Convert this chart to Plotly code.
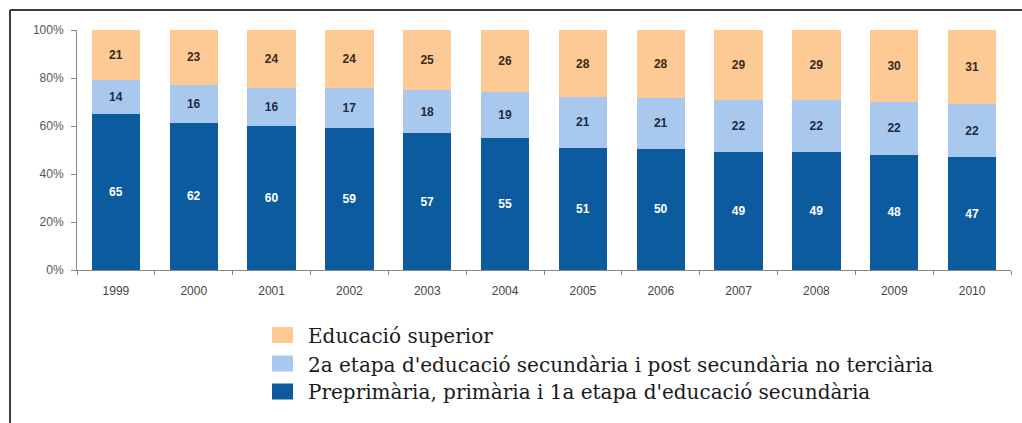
import plotly.graph_objects as go

# Share of the population by highest education level attained (%)
years = ["1999", "2000", "2001", "2002", "2003", "2004",
         "2005", "2006", "2007", "2008", "2009", "2010"]
basic = [65, 62, 60, 59, 57, 55, 51, 50, 49, 49, 48, 47]
upper_secondary = [14, 16, 16, 17, 18, 19, 21, 21, 22, 22, 22, 22]
higher = [21, 23, 24, 24, 25, 26, 28, 28, 29, 29, 30, 31]
pct_ticks = [0, 20, 40, 60, 80, 100]
pct_labels = ["0%", "20%", "40%", "60%", "80%", "100%"]

series_names = [
    "Preprimària, primària i 1a etapa d'educació secundària",
    "2a etapa d'educació secundària i post secundària no terciària",
    "Educació superior",
]
series_values = [basic, upper_secondary, higher]
series_colors = ["#0B5B9E", "#A9C8EE", "#FDC994"]
label_colors = ["#FFFFFF", "#1F2A44", "#3A2A1A"]

SANS = "Liberation Sans, Arial, sans-serif"
SERIF = "DejaVu Serif, serif"

W, H = 1022, 423
L, R, T, B = 77, 11, 30, 153
PW, PH = W - L - R, H - T - B


def px_x(x):
    return (x - L) / PW


def px_y(y):
    return (H - B - y) / PH


fig = go.Figure()
for name, vals, col, tcol in zip(series_names, series_values, series_colors, label_colors):
    fig.add_trace(go.Bar(
        x=years, y=vals, name=name,
        marker=dict(color=col, line=dict(width=0)),
        text=[str(v) for v in vals],
        textposition="inside", insidetextanchor="middle",
        textangle=0,
        textfont=dict(family=SANS, size=12, color=tcol, weight="bold"),
        showlegend=False,
    ))

shapes = []
annotations = []

# Legend drawn as coloured squares with serif labels, top entry first
legend_rows = [335, 363.5, 391.5]
for row_y, name, col in zip(legend_rows, series_names[::-1], series_colors[::-1]):
    shapes.append(dict(type="rect", xref="paper", yref="paper",
                       x0=px_x(272), x1=px_x(293),
                       y0=px_y(row_y + 8), y1=px_y(row_y - 8),
                       fillcolor=col, line=dict(width=0)))
    annotations.append(dict(xref="paper", yref="paper", x=px_x(306), y=px_y(row_y + 1),
                            xanchor="left", yanchor="middle", showarrow=False,
                            text=name,
                            font=dict(family=SERIF, size=20, color="#1A1A1A")))

# Outer frame (left and top edges)
shapes.append(dict(type="line", xref="paper", yref="paper",
                   x0=px_x(10), x1=px_x(10), y0=px_y(10), y1=px_y(H + 5),
                   line=dict(color="#3C3C3C", width=2)))
shapes.append(dict(type="line", xref="paper", yref="paper",
                   x0=px_x(10), x1=px_x(W + 5), y0=px_y(10), y1=px_y(10),
                   line=dict(color="#3C3C3C", width=2)))

fig.update_layout(
    width=W, height=H,
    margin=dict(l=L, r=R, t=T, b=B, pad=0),
    barmode="stack", barnorm="percent", bargap=0.38,
    paper_bgcolor="white", plot_bgcolor="white",
    shapes=shapes, annotations=annotations,
    uniformtext=dict(minsize=8, mode="show"),
    xaxis=dict(
        type="category", tickson="boundaries",
        ticks="outside", ticklen=4, tickcolor="#8A8A8A",
        ticklabelstandoff=10,
        showline=True, linecolor="#8A8A8A", linewidth=1,
        showgrid=False, zeroline=False,
        tickfont=dict(family=SANS, size=12, color="#444444"),
    ),
    yaxis=dict(
        range=[0, 100], tickmode="array", tickvals=pct_ticks, ticktext=pct_labels,
        ticks="outside", ticklen=5, tickcolor="#8A8A8A",
        ticklabelstandoff=5,
        showline=True, linecolor="#8A8A8A", linewidth=1,
        showgrid=False, zeroline=False,
        tickfont=dict(family=SANS, size=12, color="#555555"),
    ),
)

fig.write_html("out.html")
